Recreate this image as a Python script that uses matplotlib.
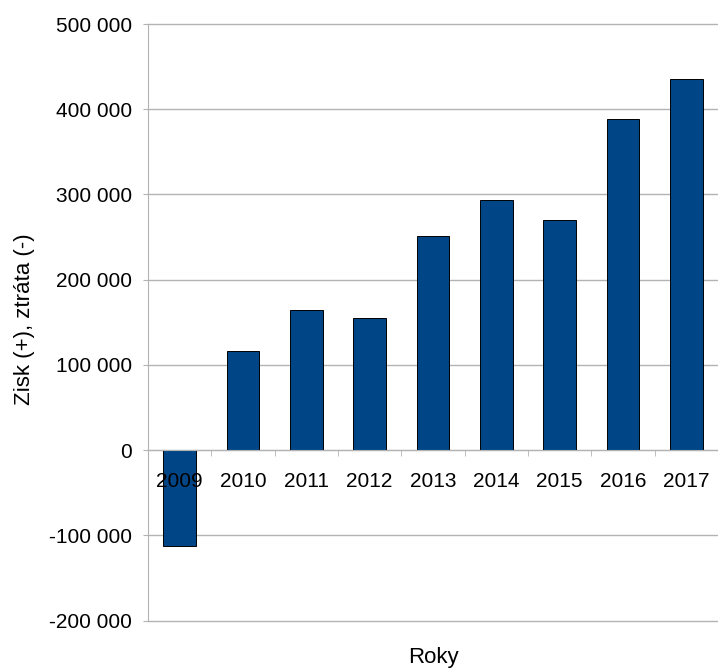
import matplotlib
matplotlib.use('Agg')
import matplotlib.pyplot as plt
from matplotlib.ticker import FuncFormatter, FixedLocator
import numpy as np

plt.rcParams['font.family'] = ['Liberation Sans', 'DejaVu Sans']

years = ['2009', '2010', '2011', '2012', '2013', '2014', '2015', '2016', '2017']
profit = [-113000, 116000, 164000, 155500, 251000, 294000, 270000, 389000, 435000]

grid_col = '#b3b3b3'

fig = plt.figure(figsize=(7.18, 6.72), dpi=100)
ax = fig.add_axes([148/718, 1 - 620.5/672, 570/718, (620.5 - 24)/672])

x = np.arange(len(years))
ax.bar(x, profit, width=0.52, color='#004586', edgecolor='black', linewidth=0.7, zorder=1)

ax.set_xlim(-0.5, len(years) - 0.5)
ax.set_ylim(-200000, 500000)
ax.set_yticks(np.arange(-200000, 500001, 100000))
ax.yaxis.set_major_formatter(FuncFormatter(lambda v, p: f'{int(v):,}'.replace(',', ' ')))

# gridlines behind the bars, tick labels stay on top
for yv in ax.get_yticks():
    ax.axhline(yv, color=grid_col, linewidth=1, zorder=0, clip_on=False)

ax.set_xticks(x)
ax.set_xticklabels(years)
ax.xaxis.set_minor_locator(FixedLocator(x[:-1] + 0.5))
ax.tick_params(axis='x', which='major', length=0, pad=16, labelsize=15)
ax.tick_params(axis='x', which='minor', length=4.5, color=grid_col, direction='out')
ax.tick_params(axis='y', length=3.6, color=grid_col, pad=8, labelsize=15)

for s in ['top', 'right']:
    ax.spines[s].set_visible(False)
ax.spines['bottom'].set_position(('data', 0))
ax.spines['bottom'].set_color(grid_col)
ax.spines['left'].set_color(grid_col)

fig.text(25/718, 1 - 319/672, 'Zisk (+), ztráta (-)', rotation=90,
         ha='center', va='center', fontsize=16)
fig.text(433/718, 1 - 657/672, 'Roky', ha='center', va='center', fontsize=16)

fig.savefig('out.png', dpi=100)
